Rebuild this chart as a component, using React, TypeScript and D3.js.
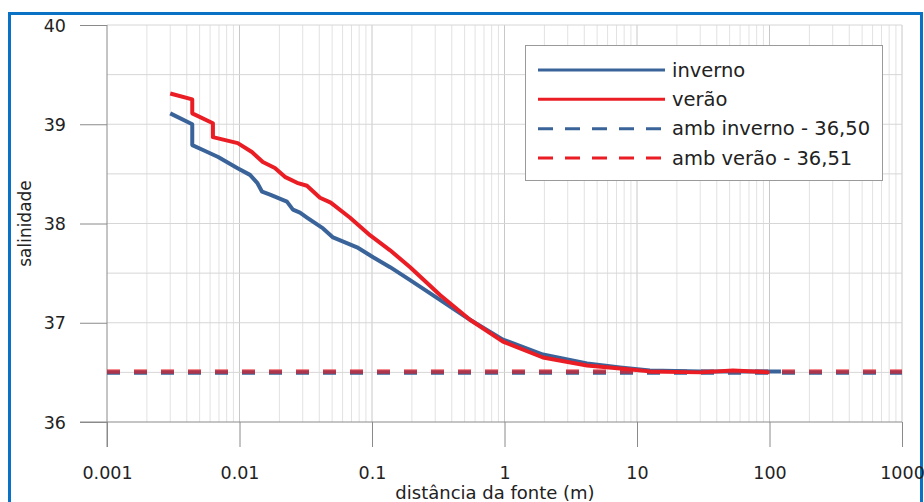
import React, { useRef, useEffect } from "react";
import * as d3 from "d3";

// axis ticks
const decades = [0.001, 0.01, 0.1, 1, 10, 100, 1000];
const decadeLabels = ["0.001", "0.01", "0.1", "1", "10", "100", "1000"];
const yTicks = [36, 37, 38, 39, 40];
const yMinor = [36.5, 37.5, 38.5, 39.5];

// salinity vs distance (m)
const inverno: [number, number][] = [
  [0.003, 39.11], [0.0044, 39.0], [0.0044, 38.79], [0.0053, 38.74],
  [0.0069, 38.67], [0.0096, 38.56], [0.012, 38.49], [0.0136, 38.41],
  [0.0148, 38.32], [0.017, 38.29], [0.0228, 38.22], [0.0253, 38.14],
  [0.0286, 38.11], [0.0323, 38.06], [0.0427, 37.95], [0.0508, 37.86],
  [0.0771, 37.76], [0.102, 37.66], [0.137, 37.56], [0.194, 37.43],
  [0.326, 37.23], [0.549, 37.03], [0.974, 36.83], [1.95, 36.68],
  [4.2, 36.59], [7.45, 36.55], [12.5, 36.52], [30, 36.51], [96, 36.51],
  [122, 36.51],
];

const verao: [number, number][] = [
  [0.003, 39.31], [0.0044, 39.25], [0.0044, 39.11], [0.0063, 39.01],
  [0.0063, 38.87], [0.0097, 38.81], [0.0124, 38.72], [0.015, 38.62],
  [0.0185, 38.56], [0.022, 38.47], [0.0272, 38.41], [0.0323, 38.38],
  [0.0405, 38.26], [0.0488, 38.21], [0.068, 38.06], [0.097, 37.88],
  [0.137, 37.73], [0.194, 37.56], [0.326, 37.28], [0.549, 37.03],
  [0.974, 36.81], [1.95, 36.65], [4.2, 36.57], [7.45, 36.54],
  [12.5, 36.51], [30, 36.5], [53, 36.52], [100, 36.5],
];

const ambInverno = 36.5;
const ambVerao = 36.51;

const legendLabels = ["inverno", "verão", "amb inverno - 36,50", "amb verão - 36,51"];

const BLUE = "#3a6499";
const RED = "#ea1c24";
const FONT = "DejaVu Sans, Verdana, sans-serif";

const App = () => {
  const ref = useRef<SVGSVGElement>(null);

  useEffect(() => {
    const width = 924;
    const height = 502;
    const left = 107;
    const right = 902;
    const top = 25;
    const bottom = 422;

    const svg = d3.select(ref.current);
    svg.selectAll("*").remove();

    const x = d3.scaleLog().domain([0.001, 1000]).range([left, right]);
    const y = d3.scaleLinear().domain([36, 40]).range([bottom, top]);

    svg.append("rect").attr("width", width).attr("height", height).attr("fill", "#fff");

    // blue frame around the chart
    svg.append("rect")
      .attr("x", 9.5).attr("y", 13.5)
      .attr("width", 912).attr("height", 520)
      .attr("fill", "none")
      .attr("stroke", "#0a72c4")
      .attr("stroke-width", 3);

    // minor log positions
    const minorX: number[] = [];
    decades.slice(0, -1).forEach((d) => {
      for (let k = 2; k <= 9; k++) minorX.push(d * k);
    });

    // grid
    svg.append("g").selectAll("line")
      .data(minorX)
      .join("line")
      .attr("x1", (d) => x(d)).attr("x2", (d) => x(d))
      .attr("y1", top).attr("y2", bottom)
      .attr("stroke", "#e2e2e2").attr("stroke-width", 1);

    svg.append("g").selectAll("line")
      .data(decades.slice(1))
      .join("line")
      .attr("x1", (d) => x(d)).attr("x2", (d) => x(d))
      .attr("y1", top).attr("y2", bottom)
      .attr("stroke", "#c8c8c8").attr("stroke-width", 1);

    svg.append("g").selectAll("line")
      .data([...yMinor, ...yTicks.slice(1)])
      .join("line")
      .attr("x1", left).attr("x2", right)
      .attr("y1", (d) => y(d)).attr("y2", (d) => y(d))
      .attr("stroke", "#d6d6d6").attr("stroke-width", 1);

    // x axis
    const gx = svg.append("g").attr("transform", `translate(0,${bottom})`);
    gx.call(d3.axisBottom(x).tickValues(minorX).tickSize(13).tickFormat(() => "").tickSizeOuter(0));
    gx.call(d3.axisBottom(x).tickValues(decades).tickSize(25).tickSizeOuter(0)
      .tickFormat((_, i) => decadeLabels[i]));
    gx.selectAll("path").remove();
    gx.selectAll("line").attr("stroke", "#8a8a8a");
    gx.selectAll("text")
      .attr("y", 51).attr("dy", "0.35em")
      .attr("fill", "#222")
      .style("font", `17.5px ${FONT}`);

    // y axis
    const gy = svg.append("g").attr("transform", `translate(${left},0)`);
    gy.call(d3.axisLeft(y).tickValues(yMinor).tickSize(14).tickFormat(() => "").tickSizeOuter(0));
    gy.call(d3.axisLeft(y).tickValues(yTicks).tickSize(27).tickSizeOuter(0)
      .tickFormat(d3.format("d")));
    gy.selectAll("path").remove();
    gy.selectAll("line").attr("stroke", "#8a8a8a");
    gy.selectAll("text")
      .attr("x", -41).attr("dy", "0.35em")
      .attr("fill", "#222")
      .style("font", `17.5px ${FONT}`);

    // axis lines
    svg.append("line")
      .attr("x1", left).attr("x2", left).attr("y1", top).attr("y2", bottom + 25)
      .attr("stroke", "#8a8a8a");
    svg.append("line")
      .attr("x1", left - 27).attr("x2", right).attr("y1", bottom).attr("y2", bottom)
      .attr("stroke", "#8a8a8a");

    // axis titles
    svg.append("text")
      .attr("x", 495).attr("y", 493)
      .attr("dy", "0.35em")
      .attr("text-anchor", "middle")
      .attr("fill", "#222")
      .style("font", `18px ${FONT}`)
      .text("distância da fonte (m)");

    svg.append("text")
      .attr("transform", `translate(25,${(top + bottom) / 2}) rotate(-90)`)
      .attr("dy", "0.35em")
      .attr("text-anchor", "middle")
      .attr("fill", "#222")
      .style("font", `17px ${FONT}`)
      .text("salinidade");

    // ambient dashed lines (practically on top of each other)
    svg.append("line")
      .attr("x1", x(0.001)).attr("x2", x(1000))
      .attr("y1", y(ambInverno)).attr("y2", y(ambInverno))
      .attr("stroke", BLUE).attr("stroke-width", 4.5)
      .attr("stroke-dasharray", "13,14");
    svg.append("line")
      .attr("x1", x(0.001)).attr("x2", x(1000))
      .attr("y1", y(ambVerao)).attr("y2", y(ambVerao))
      .attr("stroke", RED).attr("stroke-width", 4.5).attr("stroke-opacity", 0.65)
      .attr("stroke-dasharray", "13,14");

    const line = d3.line<[number, number]>()
      .x((d) => x(d[0]))
      .y((d) => y(d[1]));

    svg.append("path")
      .attr("fill", "none")
      .attr("stroke", BLUE)
      .attr("stroke-width", 4)
      .attr("stroke-linejoin", "round")
      .attr("d", line(inverno));

    svg.append("path")
      .attr("fill", "none")
      .attr("stroke", RED)
      .attr("stroke-width", 4)
      .attr("stroke-linejoin", "round")
      .attr("d", line(verao));

    // legend
    const lg = svg.append("g");
    lg.append("rect")
      .attr("x", 525.5).attr("y", 45.5)
      .attr("width", 357).attr("height", 135)
      .attr("fill", "#fff")
      .attr("stroke", "#9a9a9a");

    const rows = [
      { color: BLUE, dash: null },
      { color: RED, dash: null },
      { color: BLUE, dash: "15,12" },
      { color: RED, dash: "15,12" },
    ];
    const rowY = d3.scalePoint<number>().domain([0, 1, 2, 3]).range([70, 158]);

    rows.forEach((r, i) => {
      lg.append("line")
        .attr("x1", 538).attr("x2", 665)
        .attr("y1", rowY(i)!).attr("y2", rowY(i)!)
        .attr("stroke", r.color)
        .attr("stroke-width", 3)
        .attr("stroke-dasharray", r.dash);
      lg.append("text")
        .attr("x", 672).attr("y", rowY(i)!)
        .attr("dy", "0.35em")
        .attr("fill", "#222")
        .style("font", `19.5px ${FONT}`)
        .text(legendLabels[i]);
    });
  }, []);

  return (
    <svg
      ref={ref}
      width={924}
      height={502}
      style={{ position: "absolute", left: 0, top: 0 }}
    />
  );
};

export default App;
